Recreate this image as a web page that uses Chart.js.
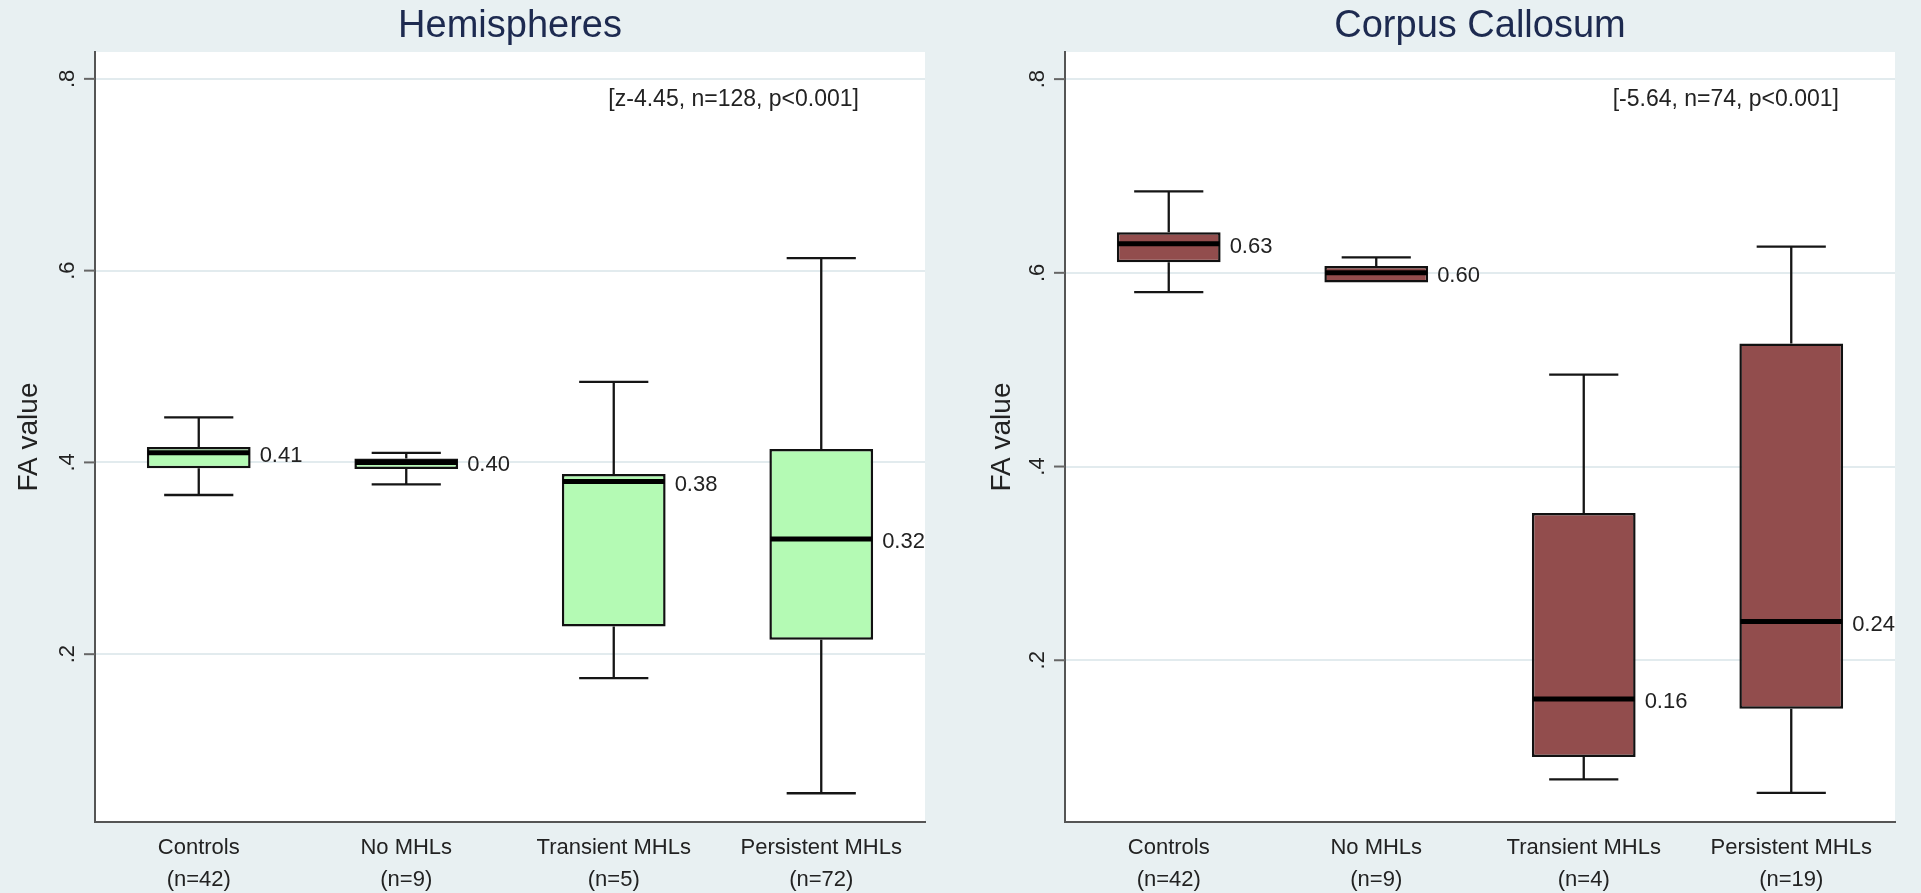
<!DOCTYPE html>
<html>
<head>
<meta charset="utf-8">
<title>FA value by group</title>
<script src="https://cdn.jsdelivr.net/npm/chart.js@4.4.1/dist/chart.umd.min.js"></script>
<style>
  html, body { margin: 0; padding: 0; background: #e8f0f2; overflow: hidden; }
  #wrap { position: relative; width: 1921px; height: 893px; }
  .panel { position: absolute; top: 0; height: 893px; }
  #p1 { left: 0; width: 960px; }
  #p2 { left: 960px; width: 961px; }
</style>
</head>
<body>
<div id="wrap">
  <div class="panel" id="p1"><canvas id="c1" width="960" height="893"></canvas></div>
  <div class="panel" id="p2"><canvas id="c2" width="961" height="893"></canvas></div>
</div>
<script>
// Groups (two-line axis labels)
const hemiCategories = [["Controls", "(n=42)"], ["No MHLs", "(n=9)"], ["Transient MHLs", "(n=5)"], ["Persistent MHLs", "(n=72)"]];
const ccCategories   = [["Controls", "(n=42)"], ["No MHLs", "(n=9)"], ["Transient MHLs", "(n=4)"], ["Persistent MHLs", "(n=19)"]];

// Y axis ticks
const yTickValues = [0.2, 0.4, 0.6, 0.8];
const yTickLabels = [".2", ".4", ".6", ".8"];

// Hemispheres: whisker ends, quartiles, medians
const hemiLow    = [0.366, 0.377, 0.175, 0.055];
const hemiQ1     = [0.394, 0.393, 0.229, 0.215];
const hemiMedian = [0.41, 0.40, 0.38, 0.32];
const hemiQ3     = [0.416, 0.404, 0.388, 0.414];
const hemiHigh   = [0.447, 0.410, 0.484, 0.613];

// Corpus callosum: whisker ends, quartiles, medians
const ccLow    = [0.580, 0.590, 0.077, 0.063];
const ccQ1     = [0.611, 0.590, 0.100, 0.150];
const ccMedian = [0.63, 0.60, 0.16, 0.24];
const ccQ3     = [0.642, 0.607, 0.352, 0.527];
const ccHigh   = [0.684, 0.616, 0.495, 0.627];

const hemiNote = "[z-4.45, n=128, p<0.001]";
const ccNote   = "[-5.64, n=74, p<0.001]";

const FONT = "'Liberation Sans', Arial, Helvetica, sans-serif";
const TEXT = "#222222";
const AXIS = "#555555";

// Draws whiskers, medians, value labels, rotated y tick labels and the test note
const boxParts = {
  id: "boxParts",
  beforeDraw(chart) {
    const { ctx, chartArea: a } = chart;
    ctx.save();
    ctx.fillStyle = "#ffffff";
    ctx.fillRect(a.left, a.top, a.right - a.left, a.bottom - a.top);
    ctx.restore();
  },
  beforeDatasetsDraw(chart) {
    const ds = chart.data.datasets[0];
    const meta = chart.getDatasetMeta(0);
    const y = chart.scales.y;
    const ctx = chart.ctx;
    ctx.save();
    ctx.strokeStyle = "#151515";
    ctx.lineWidth = 2.3;
    meta.data.forEach((bar, i) => {
      const x = bar.x;
      const capHalf = bar.width / 3;
      const yHi = y.getPixelForValue(ds.high[i]);
      const yQ3 = y.getPixelForValue(ds.q3[i]);
      const yLo = y.getPixelForValue(ds.low[i]);
      const yQ1 = y.getPixelForValue(ds.q1[i]);
      ctx.beginPath();
      ctx.moveTo(x, yHi); ctx.lineTo(x, yQ3);
      ctx.moveTo(x - capHalf, yHi); ctx.lineTo(x + capHalf, yHi);
      if (ds.low[i] < ds.q1[i]) {
        ctx.moveTo(x, yLo); ctx.lineTo(x, yQ1);
        ctx.moveTo(x - capHalf, yLo); ctx.lineTo(x + capHalf, yLo);
      }
      ctx.stroke();
    });
    ctx.restore();
  },
  afterDatasetsDraw(chart) {
    const ds = chart.data.datasets[0];
    const meta = chart.getDatasetMeta(0);
    const y = chart.scales.y;
    const ctx = chart.ctx;
    ctx.save();
    meta.data.forEach((bar, i) => {
      const ym = y.getPixelForValue(ds.median[i]);
      const half = bar.width / 2;
      ctx.strokeStyle = "#000000";
      ctx.lineWidth = 5;
      ctx.beginPath();
      ctx.moveTo(bar.x - half + 1, ym);
      ctx.lineTo(bar.x + half - 1, ym);
      ctx.stroke();
      ctx.fillStyle = TEXT;
      ctx.font = "22px " + FONT;
      ctx.textAlign = "left";
      ctx.textBaseline = "middle";
      ctx.fillText(ds.median[i].toFixed(2), bar.x + half + 9, ym + 3);
    });
    ctx.restore();
  },
  afterDraw(chart) {
    const { ctx, chartArea: a } = chart;
    const y = chart.scales.y;
    ctx.save();
    // tick marks and rotated tick labels
    ctx.strokeStyle = "#666666";
    ctx.lineWidth = 2;
    ctx.fillStyle = TEXT;
    ctx.font = "22px " + FONT;
    ctx.textAlign = "center";
    ctx.textBaseline = "alphabetic";
    yTickValues.forEach((v, i) => {
      const py = y.getPixelForValue(v);
      ctx.beginPath();
      ctx.moveTo(a.left - 11, py);
      ctx.lineTo(a.left, py);
      ctx.stroke();
      ctx.save();
      ctx.translate(a.left - 21, py);
      ctx.rotate(-Math.PI / 2);
      ctx.fillText(yTickLabels[i], 0, 0);
      ctx.restore();
    });
    // statistics note
    const note = chart.data.datasets[0].note;
    ctx.font = "23px " + FONT;
    ctx.textAlign = "right";
    ctx.textBaseline = "middle";
    ctx.fillText(note.text, a.right - note.rightGap, a.top + 48);
    ctx.restore();
  }
};

function makeChart(canvasId, cfg) {
  return new Chart(document.getElementById(canvasId), {
    type: "bar",
    data: {
      labels: cfg.categories,
      datasets: [{
        data: cfg.q1.map((v, i) => [v, cfg.q3[i]]),
        low: cfg.low, q1: cfg.q1, median: cfg.median, q3: cfg.q3, high: cfg.high,
        note: cfg.note,
        backgroundColor: cfg.fill,
        borderColor: "#111111",
        borderWidth: 2.5,
        borderSkipped: false,
        barPercentage: 0.5,
        categoryPercentage: 1.0
      }]
    },
    options: {
      responsive: false,
      animation: false,
      devicePixelRatio: 1,
      layout: { padding: { left: 0, right: cfg.padRight, top: 0, bottom: 0 } },
      plugins: {
        legend: { display: false },
        tooltip: { enabled: false },
        title: {
          display: true,
          text: cfg.title,
          fullSize: false,
          color: "#1d2a50",
          font: { family: FONT, size: 38, weight: "normal", lineHeight: 1.2 },
          padding: { top: 4, bottom: 2.4 }
        }
      },
      scales: {
        x: {
          type: "category",
          offset: true,
          grid: { display: false, drawTicks: false },
          border: { display: true, color: AXIS, width: 2 },
          ticks: {
            color: TEXT,
            font: { family: FONT, size: 22, lineHeight: 1.45 },
            padding: 10,
            maxRotation: 0,
            minRotation: 0,
            autoSkip: false
          },
          afterFit(scale) { scale.height = 71; }
        },
        y: {
          min: cfg.yMin,
          max: cfg.yMax,
          afterBuildTicks(scale) { scale.ticks = yTickValues.map(v => ({ value: v })); },
          grid: { color: "#e2ebee", lineWidth: 2, drawTicks: false },
          border: { display: true, color: AXIS, width: 2 },
          ticks: { display: false },
          title: {
            display: true,
            text: "FA value",
            color: TEXT,
            font: { family: FONT, size: 28, lineHeight: 1.2 },
            padding: { top: cfg.titlePad, bottom: 0 }
          },
          afterFit(scale) { scale.width = cfg.yWidth; }
        }
      }
    },
    plugins: [boxParts]
  });
}

makeChart("c1", {
  title: "Hemispheres",
  categories: hemiCategories,
  low: hemiLow, q1: hemiQ1, median: hemiMedian, q3: hemiQ3, high: hemiHigh,
  fill: "#b4fab4",
  note: { text: hemiNote, rightGap: 66 },
  yMin: 0.025, yMax: 0.828,
  yWidth: 95, padRight: 35, titlePad: 12
});

makeChart("c2", {
  title: "Corpus Callosum",
  categories: ccCategories,
  low: ccLow, q1: ccQ1, median: ccMedian, q3: ccQ3, high: ccHigh,
  fill: "#924d4d",
  note: { text: ccNote, rightGap: 56 },
  yMin: 0.033, yMax: 0.828,
  yWidth: 105, padRight: 26, titlePad: 25
});
</script>
</body>
</html>
